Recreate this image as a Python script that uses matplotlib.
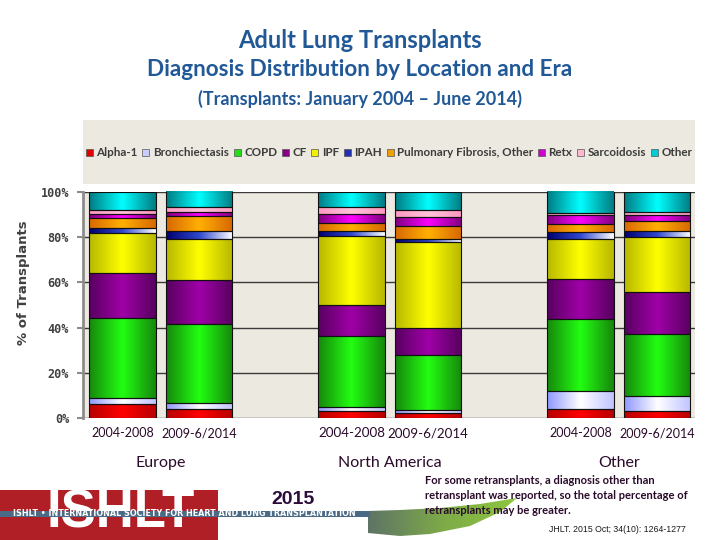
import numpy as np
import matplotlib
matplotlib.use("Agg")
import matplotlib.pyplot as plt
from matplotlib.colors import LinearSegmentedColormap
from matplotlib.patches import Patch, Rectangle, Polygon

# ---------------- data ----------------
eras = ["2004-2008", "2009-6/2014", "2004-2008", "2009-6/2014", "2004-2008", "2009-6/2014"]
regions = ["Europe", "North America", "Other"]
diagnoses = ["Alpha-1", "Bronchiectasis", "COPD", "CF", "IPF", "IPAH",
             "Pulmonary Fibrosis, Other", "Retx", "Sarcoidosis", "Other"]

alpha1 = [6.2, 4.3, 3.4, 2.2, 4.0, 3.1]
bronch = [2.9, 2.4, 1.8, 1.6, 8.2, 6.6]
copd = [35.0, 34.9, 31.0, 24.0, 31.5, 27.4]
cf = [20.1, 19.3, 14.0, 12.2, 17.8, 18.8]
ipf = [17.6, 18.2, 30.4, 37.6, 17.5, 24.3]
ipah = [2.4, 3.4, 2.2, 1.6, 3.4, 2.6]
pf_other = [4.0, 6.6, 3.5, 5.7, 3.2, 4.1]
retx = [1.8, 1.9, 3.7, 4.1, 4.0, 2.8]
sarc = [2.1, 2.1, 3.4, 3.1, 0.9, 1.2]
other = [7.9, 7.1, 6.6, 7.8, 9.6, 9.1]
series = [alpha1, bronch, copd, cf, ipf, ipah, pf_other, retx, sarc, other]

# ---------------- styles ----------------
base_colors = ["#E00000", "#C8CCFF", "#22DD11", "#880088", "#F0F000", "#2030B0",
               "#F0A000", "#D000D0", "#FFB8D0", "#00CCD4"]
gradients = [
    ["#B80000", "#FF0000", "#B80000"],
    ["#9098FF", "#FFFFFF", "#C0C4FF"],
    ["#17880C", "#22FF11", "#17880C"],
    ["#580060", "#A000A8", "#580060"],
    ["#B8B800", "#FFFF00", "#B8B800"],
    ["#000070", "#3048D0", "#FFFFFF"],
    ["#D86800", "#FFB000", "#D86800"],
    ["#800080", "#FF00FF", "#800080"],
    ["#FF98C0", "#FFC4DA", "#FF98C0"],
    ["#007C84", "#00FFFF", "#007C84"],
]

fig = plt.figure(figsize=(7.2, 5.4), dpi=100)
fig.patch.set_facecolor("white")

# decoration layer in pixel coordinates
deco = fig.add_axes([0, 0, 1, 1], zorder=0)
deco.set_xlim(0, 720)
deco.set_ylim(540, 0)
deco.axis("off")
deco.add_patch(Rectangle((83, 120), 612, 64, facecolor="#ECE9E1",
                         edgecolor="none"))
deco.add_patch(Rectangle((0, 490), 218, 50, facecolor="#B01E26",
                         edgecolor="none", zorder=1))
deco.text(121, 539, "ISHLT", ha="center", va="bottom", fontsize=38,
          fontweight="bold", color="white", family="Liberation Sans", zorder=2)
deco.add_patch(Rectangle((0, 510.5), 370, 6.8, facecolor="#4B6A85",
                         edgecolor="none", zorder=3))
deco.text(184, 514, "ISHLT \u2022 INTERNATIONAL SOCIETY FOR HEART AND LUNG TRANSPLANTATION",
          ha="center", va="center", fontsize=5.8, fontweight="bold",
          color="white", zorder=4)
swoosh = Polygon([(368, 511), (400, 510), (440, 508), (480, 504), (517, 498),
                  (500, 512), (470, 526), (430, 534), (400, 536), (368, 533)],
                 closed=True, facecolor="none", edgecolor="none")
deco.add_patch(swoosh)
sw_cmap = LinearSegmentedColormap.from_list("sw", ["#5E7466", "#7DAA48", "#8DC63F"])
sw_img = sw_cmap(np.linspace(0, 1, 64))[None, :, :]
sim = deco.imshow(sw_img, extent=(368, 517, 537, 497), aspect="auto",
                  interpolation="bilinear", zorder=1)
sim.set_clip_path(swoosh)
deco.set_xlim(0, 720)
deco.set_ylim(540, 0)

L, R = 83 / 720, 695 / 720
B, T = 1 - 418.3 / 540, 1 - 191.7 / 540
ax = fig.add_axes([L, B, R - L, T - B], zorder=2)
ax.set_facecolor("#ECE9E1")

x = np.array([0, 1, 3, 4, 6, 7], dtype=float)
width = 0.87
bottom = np.zeros(len(x))
for vals, base, grad in zip(series, base_colors, gradients):
    vals = np.array(vals)
    bars = ax.bar(x, vals, width, bottom=bottom, color=base,
                  edgecolor="#111111", linewidth=0.8, zorder=3)
    cmap = LinearSegmentedColormap.from_list("g", grad)
    img = cmap(np.linspace(0, 1, 64))[None, :, :]
    for p in bars.patches:
        x0, y0 = p.get_x(), p.get_y()
        w, h = p.get_width(), p.get_height()
        if h <= 0:
            continue
        im = ax.imshow(img, extent=(x0, x0 + w, y0, y0 + h), aspect="auto",
                       origin="lower", interpolation="bilinear", zorder=2.5)
        im.set_clip_path(p)
        p.set_facecolor("none")
    bottom += vals

ax.set_xlim(-0.52, 7.5)
ax.set_ylim(0, 100)
ax.set_yticks([0, 20, 40, 60, 80, 100])
ax.set_yticklabels(["0%", "20%", "40%", "60%", "80%", "100%"],
                   family="DejaVu Sans Mono", fontweight="bold",
                   fontsize=8.5, color="#404040")
ax.yaxis.grid(True, color="#3a3a3a", linewidth=1.0)
ax.set_axisbelow(True)
for s in ["top", "right", "bottom"]:
    ax.spines[s].set_visible(False)
ax.spines["left"].set_color("#8c8c8c")
ax.spines["left"].set_linewidth(2)
ax.tick_params(axis="y", direction="out", length=4, width=1.5,
               color="#8c8c8c", pad=6)

ax.set_xticks(x)
ax.set_xticklabels([])
ax.tick_params(axis="x", length=0)
for i, (xi, lab) in enumerate(zip(x, eras)):
    fs = 9.6 if i in (2, 3) else 9
    ax.text(xi, -6.5, lab, ha="center", va="center", fontsize=fs,
            family="Lato", color="#2a0a2a", zorder=5)
group_centers = [0.5, 3.5, 6.5]
for gc, reg in zip(group_centers, regions):
    ax.text(gc, -19.7, reg, ha="center", va="center", fontsize=11.5,
            family="Lato", color="#2a0a2a")

fig.text(24 / 720, 1 - 283 / 540, "% of Transplants", rotation=90,
         ha="center", va="center", fontsize=9.5, fontweight="bold",
         color="#404040")

handles = [Patch(facecolor=c, edgecolor="#555555", linewidth=0.5)
           for c in base_colors]
leg = fig.legend(handles, diagnoses, loc="center", ncol=10,
                 bbox_to_anchor=((L + R) / 2, 1 - 153 / 540),
                 frameon=False, handlelength=0.6, handleheight=0.6,
                 handletextpad=0.3, columnspacing=0.4,
                 prop={"family": "Lato", "size": 8.4, "weight": "bold"})
for t in leg.get_texts():
    t.set_color("#3c3c3c")

# titles
title_c = "#215896"
fig.text(0.5, 1 - 40 / 540, "Adult Lung Transplants", ha="center", va="center",
         fontsize=17, family="Lato", fontweight="bold", color=title_c)
fig.text(0.5, 1 - 70 / 540, "Diagnosis Distribution by Location and Era",
         ha="center", va="center", fontsize=16.2, family="Lato",
         fontweight="bold", color=title_c)
fig.text(0.5, 1 - 99 / 540, "(Transplants: January 2004 \u2013 June 2014)",
         ha="center", va="center", fontsize=13, family="Lato",
         fontweight="bold", color=title_c)

# footer texts
fig.text(293 / 720, 1 - 500 / 540, "2015", ha="center", va="center",
         fontsize=14, fontweight="bold", family="Liberation Sans",
         color="#2B0B3B")
fig.text(425 / 720, 1 - 495.5 / 540,
         "For some retransplants, a diagnosis other than\n"
         "retransplant was reported, so the total percentage of\n"
         "retransplants may be greater.",
         ha="left", va="center", fontsize=8.0, family="Lato",
         fontweight="bold", color="#2a0a2a", linespacing=1.4, zorder=5)
fig.text(686 / 720, 1 - 530 / 540, "JHLT. 2015 Oct; 34(10): 1264-1277",
         ha="right", va="center", fontsize=6.3, color="#1a1a1a",
         family="Liberation Sans")

fig.savefig("out.png", dpi=100)
